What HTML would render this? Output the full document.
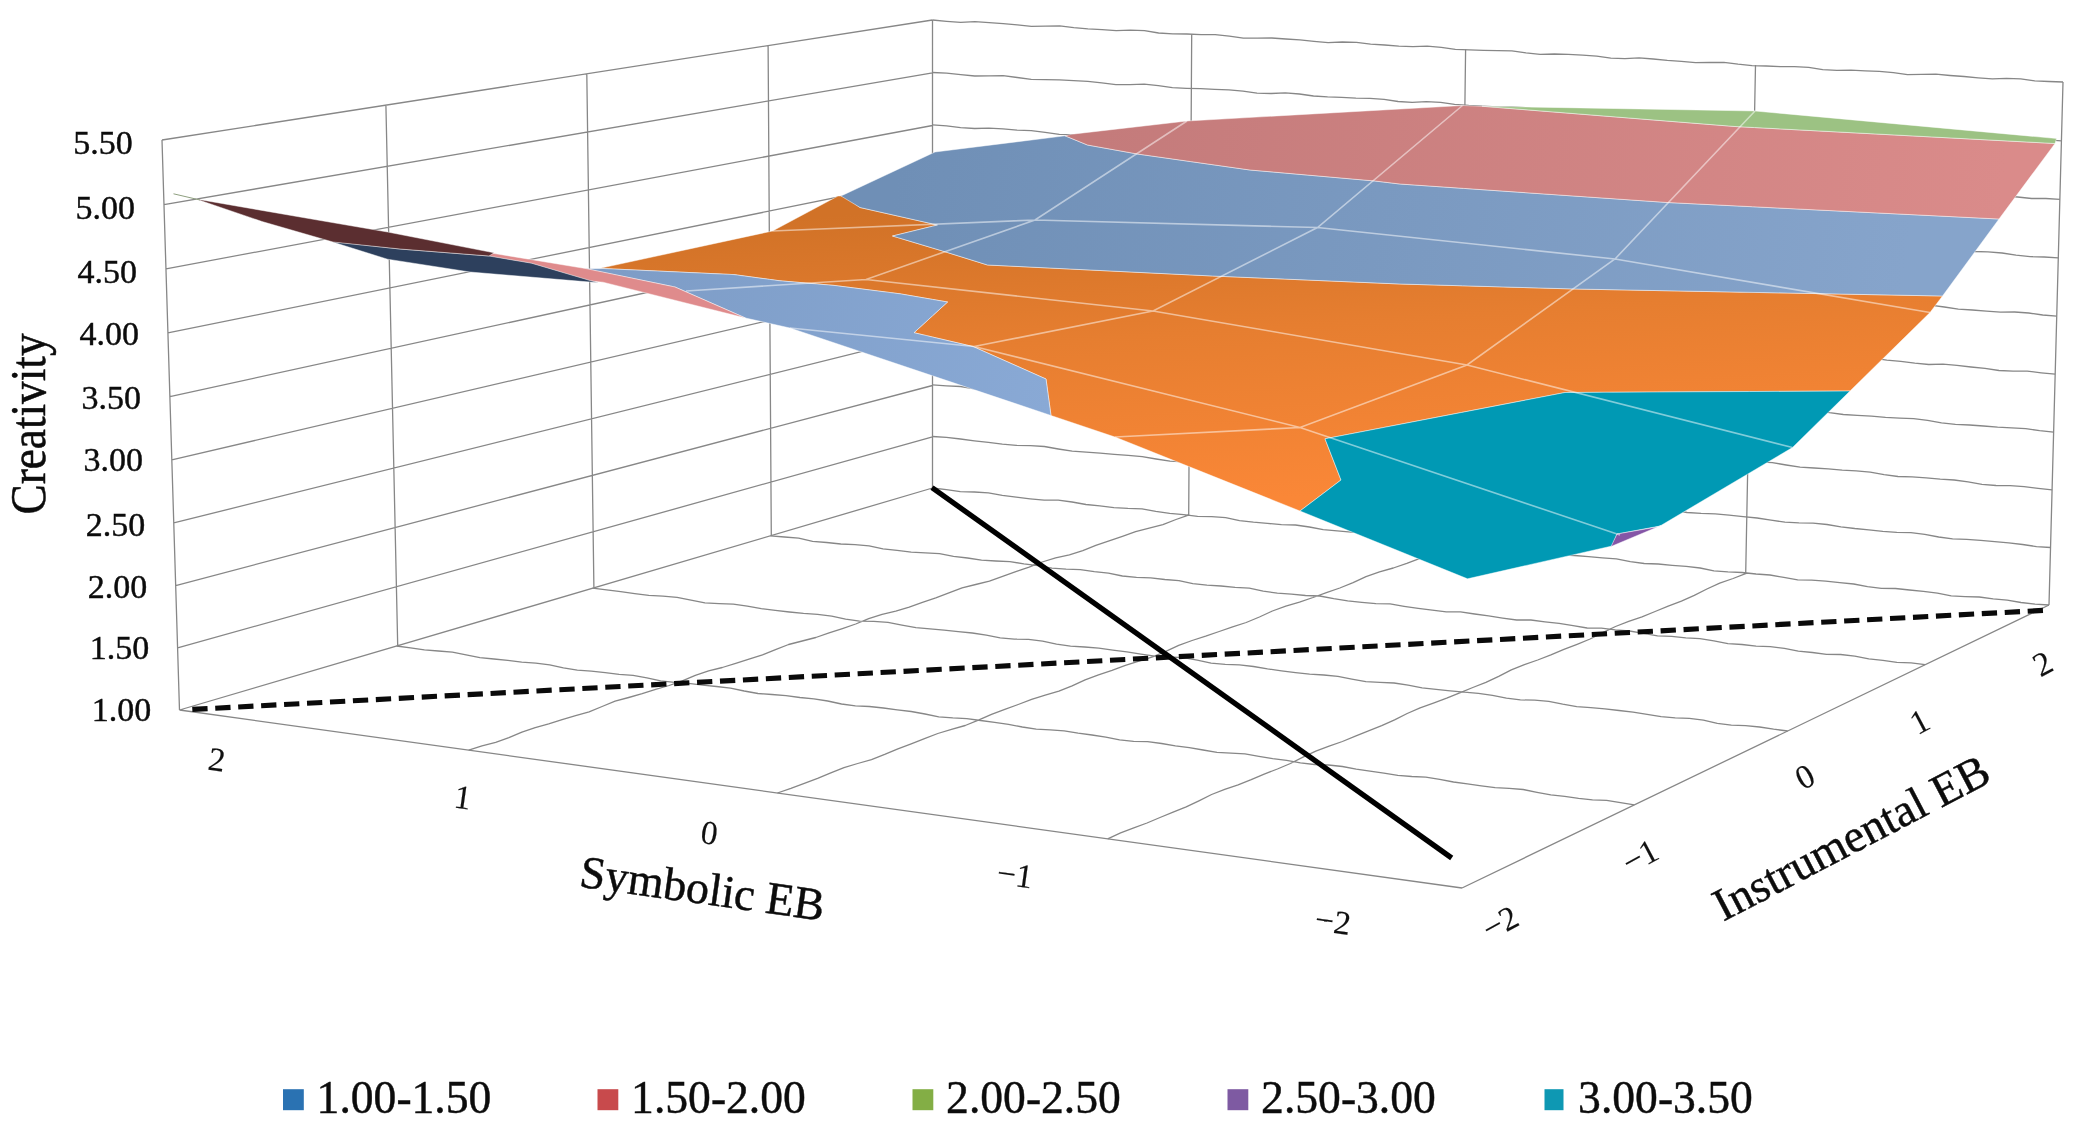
<!DOCTYPE html><html><head><meta charset="utf-8"><title>Surface chart</title><style>html,body{margin:0;padding:0;background:#fff;overflow:hidden}svg{display:block;filter:blur(0.55px)}</style></head><body><svg width="2081" height="1132" viewBox="0 0 2081 1132">
<defs>
<linearGradient id="gO" gradientUnits="userSpaceOnUse" x1="1000" y1="205" x2="1020" y2="515"><stop offset="0" stop-color="#d17227"/><stop offset="0.45" stop-color="#e67e30"/><stop offset="1" stop-color="#fa8737"/></linearGradient>
<linearGradient id="gB" gradientUnits="userSpaceOnUse" x1="900" y1="150" x2="1900" y2="300"><stop offset="0" stop-color="#6f8fb6"/><stop offset="1" stop-color="#86a4cb"/></linearGradient>
<linearGradient id="gR" gradientUnits="userSpaceOnUse" x1="1100" y1="120" x2="2000" y2="220"><stop offset="0" stop-color="#c47b7b"/><stop offset="1" stop-color="#da8b8a"/></linearGradient>
<linearGradient id="gL" gradientUnits="userSpaceOnUse" x1="600" y1="270" x2="1050" y2="410"><stop offset="0" stop-color="#7d9cc6"/><stop offset="1" stop-color="#89a9d5"/></linearGradient>
</defs>
<rect width="100%" height="100%" fill="#fff"/>
<path d="M179.5 710.0L932.5 488.0M179.5 710.0L1462.0 888.0M179.5 710.0L162.0 140.0M397.7 645.7L385.9 105.1M1188.7 514.9L1191.7 34.2M593.9 587.8L586.8 73.8M1459.4 543.2L1465.6 49.2M771.3 535.5L768.1 45.6M1745.7 573.2L1755.5 65.1M1462.0 888.0L2049.0 605.0M932.5 488.0L932.5 20.0M2049.0 605.0L2063.0 82.0M177.6 647.9L932.5 436.9M175.7 585.6L932.5 385.5M173.8 522.9L932.5 333.9M171.8 459.9L932.5 282.2M169.9 396.6L932.5 230.2M167.9 332.9L932.5 178.0M166.0 268.9L932.5 125.5M164.0 204.6L932.5 72.9M162.0 140.0L932.5 20.0" fill="none" stroke="#878787" stroke-width="1.3"/>
<path d="M468.7 750.1L482.0 745.8L495.7 742.3L508.9 737.7L521.9 732.1L535.2 727.6L548.7 723.9L562.1 719.6L575.6 715.7L589.1 711.8L602.1 706.5L615.1 701.2L628.7 697.5L642.2 693.7L655.6 689.4L669.1 685.5L682.3 680.9L695.3 675.3L708.6 670.9L722.3 667.5L735.7 663.4L749.0 659.1L762.5 654.9L775.5 649.7L788.6 644.5L802.2 641.0L815.8 637.5L829.1 632.9L842.4 628.6L855.7 624.0L868.7 618.6L882.1 614.3L895.8 611.2L909.2 607.1L922.4 602.3L935.8 597.9L948.9 592.9L962.1 587.9L975.7 584.5L989.4 581.1L1002.6 576.3L1015.8 571.6L1029.1 567.1L1042.2 562.0L1055.6 557.9L1069.4 554.8L1082.8 550.6L1095.8 545.4L1109.1 540.8L1122.4 536.3L1135.6 531.6L1149.2 528.1L1162.9 524.7L1176.0 519.5L1189.2 514.9M396.6 646.0L410.5 647.9L424.4 649.8L438.4 651.0L452.4 652.1L466.1 654.8L479.9 657.6L493.9 659.0L507.8 660.4L521.7 662.1L535.8 663.1L549.7 664.8L563.4 667.9L577.3 670.1L591.3 671.2L605.2 672.7L619.1 674.3L633.1 675.4L646.9 677.8L660.7 680.9L674.6 682.4L688.6 683.4L702.6 685.1L716.5 686.5L730.5 688.1L744.2 691.0L758.0 693.5L772.0 694.5L786.0 695.6L799.9 697.5L813.9 698.9L827.7 701.0L841.5 704.0L855.4 705.8L869.4 706.5L883.4 708.0L897.3 709.9L911.2 711.5L925.0 714.0L938.8 716.8L952.8 717.9L966.8 718.6L980.7 720.5L994.6 722.4L1008.5 724.3L1022.3 727.0L1036.2 729.2L1050.2 729.8L1064.2 730.9L1078.1 733.2L1092.0 735.0L1105.8 737.1L1119.6 739.9L1133.6 741.3L1147.6 741.7L1161.6 743.5L1175.4 745.9L1189.3 747.7L1203.1 750.0L1217.0 752.4L1231.0 753.1L1245.0 753.9L1258.9 756.3L1272.7 758.6L1286.6 760.4L1300.4 762.8L1314.4 764.5L1328.4 765.0L1342.4 766.5L1356.2 769.1L1370.0 771.2L1383.9 773.1L1397.8 775.4L1411.8 776.5L1425.8 777.1L1439.7 779.3L1453.5 782.0L1467.4 783.8L1481.3 785.8L1495.1 787.7L1509.2 788.4L1523.2 789.5L1537.0 792.3L1550.8 794.8L1564.7 796.4L1578.6 798.3L1592.5 799.8L1606.6 800.4L1620.5 802.7L1634.3 804.9M777.4 793.0L790.9 788.4L804.3 783.3L817.6 778.4L830.8 772.9L844.0 767.6L857.7 763.5L871.5 759.6L884.7 754.4L897.9 748.8L911.2 743.9L924.5 738.7L937.8 733.5L951.5 729.4L965.2 725.5L978.4 720.1L991.5 714.3L1004.8 709.4L1018.2 704.5L1031.6 699.4L1045.2 695.2L1058.9 691.2L1072.1 685.8L1085.1 679.8L1098.5 674.9L1112.0 670.3L1125.4 665.4L1138.9 661.1L1152.6 656.9L1165.8 651.4L1178.7 645.4L1192.1 640.5L1205.7 636.2L1219.2 631.5L1232.6 626.8L1246.2 622.5L1259.4 617.0L1272.4 611.0L1285.8 606.1L1299.5 602.1L1313.0 597.5L1326.4 592.6L1339.8 588.0L1353.1 582.6L1366.0 576.6L1379.5 571.9L1393.3 568.0L1406.8 563.4L1420.0 558.3L1433.4 553.5L1446.7 548.2L1460.1 543.3M592.6 588.2L606.6 589.8L620.7 591.7L634.7 593.7L648.8 595.4L662.9 596.2L677.1 597.3L691.0 600.1L704.9 602.8L719.1 603.6L733.3 604.1L747.3 606.2L761.3 608.7L775.3 610.4L789.4 612.0L803.5 613.4L817.6 614.4L831.7 616.2L845.6 619.1L859.6 621.1L873.8 621.4L888.0 622.4L901.9 625.1L915.9 627.6L930.0 628.9L944.1 630.1L958.2 631.6L972.3 633.0L986.3 635.2L1000.2 637.8L1014.3 639.1L1028.5 639.4L1042.6 641.1L1056.5 644.2L1070.5 646.2L1084.7 647.0L1098.8 648.2L1112.8 650.1L1126.9 651.9L1140.9 654.1L1154.9 656.1L1169.1 657.0L1183.2 657.7L1197.2 660.1L1211.1 663.1L1225.2 664.4L1239.4 664.9L1253.5 666.5L1267.5 668.9L1281.5 670.8L1295.5 672.6L1309.6 674.2L1323.8 675.0L1337.9 676.4L1351.8 679.2L1365.8 681.7L1379.9 682.4L1394.1 683.0L1408.1 685.2L1422.1 687.8L1436.1 689.4L1450.2 690.8L1464.3 692.2L1478.4 693.4L1492.5 695.3L1506.4 698.1L1520.4 699.9L1534.7 700.2L1548.8 701.4L1562.7 704.2L1576.7 706.6L1590.8 707.7L1604.9 708.9L1619.0 710.5L1633.1 712.1L1647.1 714.3L1661.1 716.7L1675.2 717.9L1689.4 718.3L1703.4 720.2L1717.3 723.3L1731.3 725.1L1745.5 725.7L1759.6 727.0L1773.6 729.2L1787.7 731.0M1107.7 838.8L1120.6 832.9L1133.8 827.9L1147.0 823.0L1160.0 817.5L1173.1 812.2L1186.2 806.9L1198.9 800.8L1211.6 794.5L1224.7 789.3L1238.1 784.8L1251.2 779.6L1264.2 774.1L1277.4 769.0L1290.4 763.5L1303.0 757.1L1315.8 751.1L1329.1 746.2L1342.4 741.5L1355.4 736.2L1368.5 730.8L1381.7 725.7L1394.6 719.9L1407.2 713.5L1420.1 707.8L1433.4 703.1L1446.7 698.2L1459.7 692.8L1472.8 687.5L1485.9 682.4L1498.7 676.3L1511.3 669.9L1524.4 664.6L1537.7 660.0L1550.9 654.9L1563.9 649.4L1577.1 644.3L1590.1 639.0L1602.8 632.6L1615.5 626.5L1628.7 621.4L1642.0 616.8L1655.1 611.5L1668.2 606.1L1681.4 601.1L1694.3 595.4L1706.9 589.0L1719.7 583.1L1733.1 578.5L1746.2 573.3M770.4 535.8L784.5 537.0L798.7 538.2L812.6 541.3L826.7 542.5L840.8 544.0L855.0 544.7L869.1 545.8L883.0 548.8L897.1 550.3L911.2 552.2L925.3 552.8L939.5 553.6L953.5 556.4L967.5 558.0L981.5 560.2L995.7 561.0L1009.9 561.6L1023.9 563.9L1038.0 565.6L1051.9 568.2L1066.1 569.2L1080.3 569.6L1094.3 571.6L1108.4 573.1L1122.4 576.0L1136.5 577.3L1150.7 577.8L1164.8 579.5L1178.9 580.6L1192.8 583.6L1206.9 585.2L1221.0 586.0L1235.1 587.4L1249.3 588.2L1263.2 591.2L1277.3 593.1L1291.4 594.2L1305.5 595.5L1319.7 596.0L1333.7 598.7L1347.7 600.8L1361.8 602.3L1375.9 603.7L1390.1 603.9L1404.1 606.3L1418.2 608.4L1432.2 610.2L1446.3 611.9L1460.5 611.9L1474.6 614.0L1488.6 615.9L1502.6 618.1L1516.7 620.0L1530.9 620.0L1545.0 621.8L1559.1 623.4L1573.1 625.7L1587.1 628.0L1601.3 628.2L1615.4 629.8L1629.5 631.0L1643.5 633.3L1657.5 635.9L1671.7 636.4L1685.8 637.9L1699.9 638.7L1713.9 640.9L1727.9 643.6L1742.0 644.5L1756.1 646.1L1770.3 646.6L1784.4 648.4L1798.3 651.2L1812.4 652.5L1826.5 654.3L1840.7 654.5L1854.8 656.1L1868.8 658.8L1882.9 660.3L1896.9 662.4L1911.1 662.9L1925.1 664.7M932.5 488.0L946.4 489.7L960.3 491.7L974.4 492.0L988.4 492.8L1002.3 495.4L1016.2 497.1L1030.1 498.8L1044.1 500.2L1058.2 500.2L1072.1 502.0L1086.0 504.5L1099.9 505.9L1113.9 507.6L1127.9 508.4L1142.0 508.8L1155.8 511.3L1169.7 513.4L1183.7 514.7L1197.6 516.3L1211.7 516.6L1225.7 517.7L1239.5 520.6L1253.4 522.2L1267.4 523.4L1281.4 524.7L1295.5 525.0L1309.4 527.0L1323.2 529.7L1337.2 530.8L1351.2 532.2L1365.2 533.0L1379.2 533.7L1393.0 536.5L1406.9 538.5L1420.9 539.4L1434.9 540.8L1449.0 541.4L1462.9 542.8L1476.7 545.8L1490.7 547.1L1504.7 548.0L1518.7 549.3L1532.7 549.9L1546.6 552.2L1560.4 554.8L1574.5 555.5L1588.5 556.7L1602.4 557.8L1616.4 558.8L1630.3 561.6L1644.2 563.5L1658.2 564.0L1672.2 565.3L1686.2 566.3L1700.1 568.0L1713.9 570.9L1727.9 571.9L1742.0 572.5L1756.0 574.0L1770.0 575.0L1783.8 577.4L1797.7 579.8L1811.7 580.2L1825.7 581.2L1839.7 582.6L1853.7 584.0L1867.5 586.7L1881.4 588.3L1895.5 588.5L1909.5 590.0L1923.4 591.4L1937.4 593.2L1951.2 595.9L1965.2 596.6L1979.3 597.0L1993.2 598.8L2007.2 600.2L2021.0 602.5L2035.0 604.1L2049.0 605.0M932.5 436.5L946.5 437.4L960.5 439.0L974.4 440.8L988.4 442.3L1002.3 444.1L1016.3 445.3L1030.4 445.6L1044.4 446.5L1058.3 449.0L1072.2 451.2L1086.2 452.2L1100.2 453.2L1114.2 454.4L1128.2 455.4L1142.2 456.6L1156.1 459.0L1170.0 461.2L1184.0 461.9L1198.1 462.2L1212.1 463.7L1226.0 465.5L1240.0 467.0L1253.9 468.9L1267.8 470.7L1281.9 471.3L1296.0 471.5L1309.9 473.3L1323.8 475.8L1337.7 477.4L1351.7 478.4L1365.7 479.7L1379.7 480.7L1393.8 481.4L1407.7 483.2L1421.6 485.9L1435.5 487.4L1449.6 487.8L1463.6 488.6L1477.6 490.3L1491.5 491.8L1505.5 493.4L1519.4 495.6L1533.4 497.0L1547.5 497.1L1561.5 497.9L1575.4 500.1L1589.3 502.3L1603.3 503.5L1617.3 504.8L1631.3 506.1L1645.3 506.7L1659.3 507.7L1673.2 510.1L1687.1 512.5L1701.1 513.4L1715.2 513.9L1729.1 515.2L1743.1 516.6L1757.1 518.0L1771.0 520.1L1784.9 522.2L1798.9 522.9L1813.0 523.1L1827.0 524.5L1840.9 526.8L1854.8 528.5L1868.8 529.8L1882.8 531.4L1896.8 532.3L1910.9 532.7L1924.8 534.3L1938.7 537.0L1952.6 538.8L1966.7 539.4L1980.7 540.3L1994.7 541.7L2008.7 542.8L2022.6 544.5L2036.5 546.6L2050.5 547.5M932.5 384.9L946.5 385.8L960.6 386.5L974.5 388.8L988.4 390.7L1002.4 391.8L1016.4 393.3L1030.5 394.2L1044.5 394.4L1058.5 395.9L1072.4 398.5L1086.4 400.0L1100.4 400.9L1114.4 402.2L1128.5 403.0L1142.5 403.6L1156.4 405.5L1170.3 408.1L1184.3 409.2L1198.4 409.8L1212.4 411.0L1226.4 412.0L1240.5 412.9L1254.4 415.3L1268.3 417.5L1282.3 418.1L1296.4 418.6L1310.4 420.0L1324.4 421.2L1338.4 422.5L1352.3 424.9L1366.2 426.7L1380.3 426.9L1394.4 427.5L1408.4 429.1L1422.3 430.6L1436.3 432.1L1450.2 434.3L1464.2 435.6L1478.3 435.6L1492.4 436.5L1506.3 438.5L1520.3 440.1L1534.2 441.6L1548.2 443.5L1562.2 444.3L1576.3 444.3L1590.3 445.8L1604.2 448.1L1618.2 449.6L1632.2 450.9L1646.2 452.5L1660.2 453.0L1674.3 453.3L1688.3 455.3L1702.2 457.7L1716.2 458.9L1730.2 460.0L1744.2 461.3L1758.2 461.8L1772.3 462.6L1786.2 465.0L1800.1 467.2L1814.1 468.0L1828.2 468.9L1842.2 470.1L1856.2 470.8L1870.2 472.1L1884.1 474.7L1898.0 476.5L1912.1 476.9L1926.2 477.8L1940.2 479.1L1954.2 480.0L1968.1 481.8L1982.0 484.3L1996.0 485.5L2010.1 485.7L2024.1 486.7L2038.1 488.4L2052.1 489.9M932.5 333.2L946.5 334.3L960.5 336.4L974.5 337.7L988.5 338.3L1002.6 339.4L1016.6 340.5L1030.7 341.1L1044.7 342.1L1058.6 344.3L1072.6 346.4L1086.6 347.4L1100.7 348.1L1114.7 349.3L1128.7 350.3L1142.8 350.8L1156.8 352.1L1170.7 354.4L1184.7 356.4L1198.7 357.2L1212.8 358.0L1226.8 359.2L1240.8 360.1L1254.9 360.6L1268.9 362.1L1282.8 364.5L1296.8 366.3L1310.8 367.0L1324.9 367.9L1338.9 369.1L1353.0 369.8L1367.0 370.5L1381.0 372.2L1394.9 374.6L1408.9 376.1L1423.0 376.8L1437.0 377.8L1451.0 378.9L1465.1 379.6L1479.1 380.4L1493.1 382.3L1507.0 384.6L1521.0 385.9L1535.1 386.6L1549.1 387.7L1563.1 388.8L1577.2 389.3L1591.2 390.3L1605.2 392.5L1619.1 394.6L1633.1 395.7L1647.2 396.4L1661.2 397.6L1675.3 398.6L1689.3 399.1L1703.4 400.3L1717.3 402.6L1731.2 404.6L1745.3 405.5L1759.3 406.2L1773.3 407.5L1787.4 408.4L1801.5 408.9L1815.5 410.3L1829.4 412.7L1843.3 414.5L1857.4 415.3L1871.4 416.1L1885.5 417.4L1899.5 418.1L1913.6 418.7L1927.6 420.4L1941.5 422.8L1955.4 424.4L1969.5 425.0L1983.5 426.0L1997.6 427.2L2011.6 427.9L2025.7 428.6L2039.6 430.7L2053.6 432.1M932.5 281.3L946.5 282.7L960.6 282.7L974.6 284.4L988.6 285.8L1002.6 287.3L1016.6 289.3L1030.7 289.4L1044.8 289.8L1058.8 291.5L1072.9 292.6L1086.8 294.7L1100.8 296.2L1115.0 296.0L1129.0 297.0L1143.0 298.3L1157.1 299.5L1171.0 302.0L1185.0 302.8L1199.2 302.9L1213.2 304.2L1227.3 305.0L1241.2 306.8L1255.2 309.1L1269.3 309.4L1283.4 310.0L1297.4 311.1L1311.5 311.8L1325.4 314.1L1339.4 316.0L1353.5 316.1L1367.5 317.2L1381.6 317.8L1395.7 318.8L1409.6 321.5L1423.6 322.6L1437.7 323.1L1451.7 324.2L1465.9 324.5L1479.8 326.1L1493.8 328.6L1507.8 329.3L1521.9 330.3L1536.0 331.0L1550.1 331.3L1564.0 333.5L1578.0 335.4L1592.0 336.2L1606.1 337.5L1620.2 337.6L1634.3 338.3L1648.2 340.8L1662.2 342.1L1676.2 343.3L1690.3 344.4L1704.4 344.2L1718.4 345.6L1732.4 347.8L1746.4 348.9L1760.4 350.5L1774.5 351.1L1788.6 351.0L1802.6 353.0L1816.6 354.6L1830.6 355.9L1844.6 357.7L1858.7 357.6L1872.8 358.1L1886.8 360.1L1900.8 361.4L1914.8 363.2L1928.8 364.5L1943.0 364.2L1957.0 365.4L1971.0 367.0L1985.0 368.3L1999.0 370.5L2013.0 371.2L2027.2 371.1L2041.2 372.8L2055.2 374.2M932.5 229.3L946.6 230.1L960.6 232.1L974.6 233.6L988.7 233.7L1002.8 234.6L1016.8 235.4L1030.9 235.9L1044.9 237.8L1058.9 239.9L1073.0 240.5L1087.0 241.7L1101.1 242.5L1115.3 242.4L1129.3 243.7L1143.3 245.7L1157.3 246.7L1171.4 248.4L1185.4 249.8L1199.5 249.6L1213.6 250.2L1227.6 251.7L1241.7 252.6L1255.7 254.4L1269.7 256.4L1283.8 256.8L1297.9 257.3L1311.9 258.4L1326.1 258.8L1340.1 260.1L1354.0 262.4L1368.1 263.5L1382.2 264.4L1396.2 265.6L1410.3 265.6L1424.4 266.2L1438.4 268.2L1452.5 269.5L1466.5 270.8L1480.5 272.6L1494.6 272.9L1508.7 273.0L1522.8 274.4L1536.8 275.4L1550.9 276.7L1564.8 279.0L1578.9 280.0L1593.0 280.2L1607.0 281.3L1621.1 281.8L1635.2 282.5L1649.2 284.8L1663.2 286.4L1677.3 287.1L1691.3 288.5L1705.4 288.9L1719.5 288.9L1733.6 290.6L1747.6 292.3L1761.6 293.4L1775.6 295.2L1789.7 296.2L1803.8 296.0L1817.9 297.0L1831.9 298.3L1846.0 299.2L1860.0 301.3L1874.0 303.0L1888.1 303.2L1902.2 304.1L1916.2 305.0L1930.3 305.2L1944.3 307.0L1958.3 309.1L1972.4 310.0L1986.4 311.2L2000.5 312.2L2014.6 312.0L2028.7 313.0L2042.7 315.0L2056.7 316.1M932.5 177.2L946.5 178.5L960.6 179.5L974.7 180.7L988.8 181.5L1002.9 181.4L1017.0 182.1L1031.0 184.1L1045.0 185.7L1059.1 186.6L1073.2 187.8L1087.2 188.9L1101.4 189.0L1115.5 189.2L1129.6 190.6L1143.6 192.5L1157.6 193.5L1171.7 194.7L1185.7 196.1L1199.8 196.7L1214.0 196.5L1228.1 197.4L1242.1 199.1L1256.2 200.4L1270.2 201.5L1284.3 203.1L1298.3 204.2L1312.5 204.2L1326.6 204.4L1340.6 205.9L1354.7 207.3L1368.8 208.3L1382.8 209.8L1396.8 211.5L1410.9 211.9L1425.1 211.8L1439.2 212.7L1453.2 214.2L1467.3 215.1L1481.3 216.4L1495.3 218.4L1509.4 219.4L1523.6 219.4L1537.7 219.8L1551.7 221.1L1565.8 222.1L1579.9 223.1L1593.9 225.0L1607.9 226.7L1622.0 227.0L1636.2 227.1L1650.2 228.1L1664.3 229.2L1678.4 229.9L1692.4 231.5L1706.4 233.5L1720.5 234.5L1734.6 234.6L1748.7 235.3L1762.8 236.3L1776.9 236.9L1791.0 238.0L1805.0 240.1L1819.0 241.7L1833.1 242.1L1847.2 242.5L1861.3 243.5L1875.4 244.2L1889.5 244.7L1903.5 246.5L1917.5 248.6L1931.6 249.5L1945.7 249.8L1959.8 250.8L1973.9 251.5L1988.0 251.8L2002.1 253.0L2016.0 255.2L2030.1 256.6L2044.2 257.0L2058.3 257.8M932.5 124.9L946.6 125.9L960.6 127.6L974.7 128.5L988.9 128.2L1003.0 128.9L1017.1 130.1L1031.2 130.7L1045.2 132.4L1059.3 134.3L1073.4 134.7L1087.5 135.2L1101.6 136.1L1115.7 136.2L1129.9 137.0L1143.9 139.1L1157.9 140.3L1172.0 141.1L1186.1 142.5L1200.2 142.7L1214.4 142.6L1228.5 143.9L1242.5 145.2L1256.6 146.1L1270.7 148.0L1284.7 149.2L1298.9 149.1L1313.0 149.7L1327.1 150.6L1341.2 151.0L1355.3 152.5L1369.3 154.6L1383.4 155.2L1397.5 155.9L1411.6 157.0L1425.8 156.9L1439.9 157.3L1453.9 159.2L1468.0 160.4L1482.1 161.4L1496.1 163.1L1510.2 163.6L1524.4 163.3L1538.5 164.4L1552.6 165.4L1566.7 166.2L1580.7 168.2L1594.8 169.7L1608.9 169.8L1623.0 170.5L1637.1 171.3L1651.3 171.3L1665.3 172.6L1679.3 174.7L1693.4 175.6L1707.5 176.6L1721.6 177.8L1735.8 177.7L1749.9 177.9L1764.0 179.5L1778.0 180.5L1792.1 181.6L1806.1 183.6L1820.2 184.3L1834.4 184.2L1848.5 185.1L1862.6 185.8L1876.7 186.3L1890.7 188.3L1904.8 190.0L1918.9 190.4L1933.0 191.4L1947.1 192.1L1961.3 191.9L1975.4 192.9L1989.4 194.8L2003.5 195.8L2017.6 197.0L2031.6 198.5L2045.8 198.5L2059.9 199.4M932.5 72.5L946.6 73.2L960.7 74.6L974.8 76.0L989.0 75.8L1003.1 75.6L1017.2 77.5L1031.2 79.4L1045.4 79.7L1059.5 79.9L1073.6 80.7L1087.8 81.4L1101.8 82.9L1115.9 84.6L1130.0 84.7L1144.2 84.2L1158.3 85.7L1172.4 87.7L1186.5 88.3L1200.6 88.7L1214.7 89.3L1228.9 89.8L1243.0 91.1L1257.0 93.1L1271.1 93.5L1285.3 92.9L1299.4 94.0L1313.5 96.0L1327.6 96.9L1341.7 97.4L1355.9 98.1L1370.0 98.3L1384.1 99.3L1398.1 101.5L1412.2 102.4L1426.4 101.7L1440.6 102.4L1454.6 104.3L1468.7 105.4L1482.8 106.1L1497.0 106.8L1511.1 106.9L1525.2 107.6L1539.3 109.8L1553.3 111.1L1567.5 110.6L1581.7 110.9L1595.7 112.5L1609.8 113.8L1623.9 114.7L1638.1 115.6L1652.2 115.6L1666.4 115.9L1680.4 118.0L1694.5 119.7L1708.6 119.5L1722.8 119.5L1736.9 120.9L1751.0 122.1L1765.1 123.2L1779.2 124.3L1793.3 124.3L1807.5 124.3L1821.5 126.2L1835.6 128.2L1849.7 128.3L1863.9 128.2L1878.0 129.3L1892.1 130.4L1906.2 131.6L1920.3 133.0L1934.4 133.2L1948.6 132.9L1962.7 134.4L1976.7 136.6L1990.8 137.1L2005.0 137.0L2019.1 137.8L2033.2 138.8L2047.3 139.9L2061.4 140.8M932.5 20.0L946.6 21.3L960.7 22.3L974.9 21.7L989.1 22.6L1003.2 23.6L1017.3 24.8L1031.4 26.4L1045.5 26.2L1059.7 25.9L1073.8 27.6L1087.9 28.9L1102.1 29.7L1116.2 30.6L1130.4 30.2L1144.5 30.7L1158.6 33.0L1172.7 33.8L1186.9 34.0L1201.0 34.6L1215.2 34.7L1229.3 36.1L1243.3 38.2L1257.5 38.1L1271.7 38.0L1285.8 39.0L1299.9 39.8L1314.0 41.4L1328.1 42.7L1342.3 42.0L1356.5 42.4L1370.6 44.1L1384.7 45.0L1398.8 46.2L1412.9 46.7L1427.2 46.1L1441.3 47.4L1455.3 49.4L1469.5 49.8L1483.6 50.4L1497.8 50.7L1511.9 50.8L1526.0 52.9L1540.1 54.4L1554.3 54.0L1568.4 54.4L1582.6 55.2L1596.7 56.1L1610.8 58.1L1624.9 58.6L1639.1 57.9L1653.2 59.0L1667.3 60.4L1681.4 61.3L1695.5 62.7L1709.7 62.5L1723.9 62.3L1738.0 64.2L1752.1 65.6L1766.2 66.0L1780.4 66.7L1794.5 66.6L1808.7 67.3L1822.7 69.6L1836.9 70.3L1851.0 70.1L1865.2 70.8L1879.3 71.3L1893.4 72.7L1907.5 74.6L1921.7 74.4L1935.9 74.2L1950.0 75.5L1964.1 76.5L1978.2 77.8L1992.3 78.9L2006.5 78.3L2020.7 78.8L2034.7 80.8L2048.9 81.5L2063.0 82.0" fill="none" stroke="#878787" stroke-width="1.3" stroke-linejoin="round"/>
<polygon points="600.0,268.3 772.5,231.0 838.0,196.0 844.0,196.0 860.0,207.5 937.5,225.0 892.5,236.0 942.5,251.0 987.5,265.0 1212.5,276.0 1400.0,284.0 1575.0,289.0 1942.5,296.0 1930.0,312.5 1850.0,391.0 1565.0,392.5 1325.0,438.8 1341.0,480.0 1300.0,511.0 1115.0,437.0 1051.0,415.5 1046.0,379.0 973.0,346.5 914.0,332.7 947.6,302.0 900.0,293.8 834.0,285.4 780.0,280.8 734.0,274.6 603.0,268.5" fill="url(#gO)" stroke="#fff" stroke-opacity="0.45" stroke-width="1" stroke-linejoin="round"/>
<polygon points="841.0,196.0 935.0,152.0 1065.0,135.8 1087.5,145.0 1137.5,154.0 1250.0,170.0 1375.0,181.0 1400.0,184.0 1667.5,202.5 1999.0,219.0 1942.5,296.0 1575.0,289.0 1400.0,284.0 1212.5,276.0 987.5,265.0 942.5,251.0 892.5,236.0 937.5,225.0 860.0,207.5" fill="url(#gB)" stroke="#fff" stroke-opacity="0.45" stroke-width="1" stroke-linejoin="round"/>
<polygon points="1065.0,135.8 1072.0,134.2 1187.0,121.0 1462.5,105.5 1482.0,106.3 1735.0,126.5 2055.0,143.5 1999.0,219.0 1667.5,202.5 1400.0,184.0 1375.0,181.0 1250.0,170.0 1137.5,154.0 1087.5,145.0" fill="url(#gR)" stroke="#fff" stroke-opacity="0.45" stroke-width="1" stroke-linejoin="round"/>
<polygon points="1482.0,106.2 1755.0,111.0 2056.5,138.5 2055.0,143.5 1735.0,126.5" fill="#9cc283" stroke="#fff" stroke-opacity="0.45" stroke-width="1" stroke-linejoin="round"/>
<polygon points="1850.0,391.0 1792.5,447.5 1660.0,526.0 1617.0,534.0 1612.0,546.0 1467.5,578.8 1300.0,511.0 1341.0,480.0 1325.0,438.8 1565.0,392.5" fill="#0099b4" stroke="#fff" stroke-opacity="0.45" stroke-width="1" stroke-linejoin="round"/>
<polygon points="1617.0,534.0 1657.0,527.0 1661.0,525.5 1611.0,546.5" fill="#8455a6" stroke="#fff" stroke-opacity="0.45" stroke-width="1" stroke-linejoin="round"/>
<polygon points="585.0,268.8 603.0,268.5 734.0,274.6 780.0,280.8 834.0,285.4 900.0,293.8 947.6,302.0 914.0,332.7 973.0,346.5 1046.0,379.0 1051.0,415.5 790.0,328.0 745.5,318.0 675.0,287.0 587.0,269.0" fill="url(#gL)" stroke="#fff" stroke-opacity="0.45" stroke-width="1" stroke-linejoin="round"/>
<polygon points="490.0,252.8 587.0,268.8 675.0,287.0 745.5,318.0 603.0,282.2 590.0,281.0 531.5,263.6 489.0,256.4" fill="#df8b8c" stroke="#fff" stroke-opacity="0.45" stroke-width="1" stroke-linejoin="round"/>
<polygon points="331.0,241.5 400.0,249.0 489.0,256.0 531.5,263.2 590.0,280.5 599.0,282.8 470.0,272.0 387.5,259.2" fill="#2d405d" stroke="#fff" stroke-opacity="0.45" stroke-width="1" stroke-linejoin="round"/>
<polygon points="196.0,199.0 300.0,217.0 387.5,232.0 494.0,252.8 489.0,256.0 400.0,249.0 333.0,242.0 262.0,221.5" fill="#5b2e30" stroke="#fff" stroke-opacity="0.45" stroke-width="1" stroke-linejoin="round"/>
<path d="M1187.0 121.0L1035.0 220.0L866.0 279.5L686.0 291.0M1462.5 105.5L1317.5 227.5L1153.0 311.0L974.0 346.5L790.0 328.0M1755.0 111.0L1615.0 259.0L1467.0 365.0L1300.0 427.5L1115.0 437.0M772.5 231.0L1035.0 220.0L1317.5 227.5L1615.0 259.0L1930.0 312.5M866.0 279.5L1153.0 311.0L1467.0 365.0L1792.5 447.5M974.0 346.5L1300.0 427.5L1620.0 535.0" fill="none" stroke="#fff" stroke-opacity="0.5" stroke-width="1.6"/>
<line x1="173.5" y1="193.8" x2="200" y2="200" stroke="#8fa080" stroke-width="1"/>
<line x1="192.3" y1="709.4" x2="2044.5" y2="610.3" stroke="#0a0a0a" stroke-width="5.1" stroke-dasharray="15.3 7.675"/>
<line x1="932" y1="487.6" x2="1451.7" y2="858" stroke="#000" stroke-width="5.3"/>
<text x="132.8" y="153.5" text-anchor="end" font-size="34" font-family="Liberation Serif, Times New Roman, serif" fill="#0c0c0c" stroke="#0c0c0c" stroke-width="0.45">5.50</text>
<text x="134.9" y="218.5" text-anchor="end" font-size="34" font-family="Liberation Serif, Times New Roman, serif" fill="#0c0c0c" stroke="#0c0c0c" stroke-width="0.45">5.00</text>
<text x="137.0" y="282.5" text-anchor="end" font-size="34" font-family="Liberation Serif, Times New Roman, serif" fill="#0c0c0c" stroke="#0c0c0c" stroke-width="0.45">4.50</text>
<text x="139.0" y="344.7" text-anchor="end" font-size="34" font-family="Liberation Serif, Times New Roman, serif" fill="#0c0c0c" stroke="#0c0c0c" stroke-width="0.45">4.00</text>
<text x="141.1" y="408.5" text-anchor="end" font-size="34" font-family="Liberation Serif, Times New Roman, serif" fill="#0c0c0c" stroke="#0c0c0c" stroke-width="0.45">3.50</text>
<text x="143.1" y="471.3" text-anchor="end" font-size="34" font-family="Liberation Serif, Times New Roman, serif" fill="#0c0c0c" stroke="#0c0c0c" stroke-width="0.45">3.00</text>
<text x="145.2" y="536.1" text-anchor="end" font-size="34" font-family="Liberation Serif, Times New Roman, serif" fill="#0c0c0c" stroke="#0c0c0c" stroke-width="0.45">2.50</text>
<text x="147.2" y="597.8" text-anchor="end" font-size="34" font-family="Liberation Serif, Times New Roman, serif" fill="#0c0c0c" stroke="#0c0c0c" stroke-width="0.45">2.00</text>
<text x="149.2" y="658.7" text-anchor="end" font-size="34" font-family="Liberation Serif, Times New Roman, serif" fill="#0c0c0c" stroke="#0c0c0c" stroke-width="0.45">1.50</text>
<text x="151.2" y="720.8" text-anchor="end" font-size="34" font-family="Liberation Serif, Times New Roman, serif" fill="#0c0c0c" stroke="#0c0c0c" stroke-width="0.45">1.00</text>
<text transform="translate(45.4,424) rotate(-90) scale(1,1.1)" text-anchor="middle" font-size="45.3" font-family="Liberation Serif, Times New Roman, serif" fill="#0c0c0c" stroke="#0c0c0c" stroke-width="0.45">Creativity</text>
<text transform="translate(578.2,886.4) rotate(8)" font-size="46" font-family="Liberation Serif, Times New Roman, serif" fill="#0c0c0c" stroke="#0c0c0c" stroke-width="0.45">Symbolic EB</text>
<text transform="translate(1723.3,921.8) rotate(-27.6)" font-size="46.3" font-family="Liberation Serif, Times New Roman, serif" fill="#0c0c0c" stroke="#0c0c0c" stroke-width="0.45">Instrumental EB</text>
<text transform="translate(217,759.2) rotate(8)" text-anchor="middle" dominant-baseline="central" font-size="33.5" font-family="Liberation Serif, Times New Roman, serif" fill="#111" stroke="#111" stroke-width="0.15">2</text>
<text transform="translate(463,797) rotate(8)" text-anchor="middle" dominant-baseline="central" font-size="33.5" font-family="Liberation Serif, Times New Roman, serif" fill="#111" stroke="#111" stroke-width="0.15">1</text>
<text transform="translate(709.5,832.5) rotate(8)" text-anchor="middle" dominant-baseline="central" font-size="33.5" font-family="Liberation Serif, Times New Roman, serif" fill="#111" stroke="#111" stroke-width="0.15">0</text>
<text transform="translate(1015,874.5) rotate(8)" text-anchor="middle" dominant-baseline="central" font-size="33.5" font-family="Liberation Serif, Times New Roman, serif" fill="#111" stroke="#111" stroke-width="0.15">−1</text>
<text transform="translate(1333,921.2) rotate(8)" text-anchor="middle" dominant-baseline="central" font-size="33.5" font-family="Liberation Serif, Times New Roman, serif" fill="#111" stroke="#111" stroke-width="0.15">−2</text>
<text transform="translate(1500,922.5) rotate(-28)" text-anchor="middle" dominant-baseline="central" font-size="33.5" font-family="Liberation Serif, Times New Roman, serif" fill="#111" stroke="#111" stroke-width="0.15">−2</text>
<text transform="translate(1640,856) rotate(-28)" text-anchor="middle" dominant-baseline="central" font-size="33.5" font-family="Liberation Serif, Times New Roman, serif" fill="#111" stroke="#111" stroke-width="0.15">−1</text>
<text transform="translate(1804.7,776.4) rotate(-28)" text-anchor="middle" dominant-baseline="central" font-size="33.5" font-family="Liberation Serif, Times New Roman, serif" fill="#111" stroke="#111" stroke-width="0.15">0</text>
<text transform="translate(1919.5,721.3) rotate(-28)" text-anchor="middle" dominant-baseline="central" font-size="33.5" font-family="Liberation Serif, Times New Roman, serif" fill="#111" stroke="#111" stroke-width="0.15">1</text>
<text transform="translate(2042.5,663.5) rotate(-28)" text-anchor="middle" dominant-baseline="central" font-size="33.5" font-family="Liberation Serif, Times New Roman, serif" fill="#111" stroke="#111" stroke-width="0.15">2</text>
<rect x="283" y="1089.2" width="20.8" height="21" fill="#2a72b2"/>
<text x="316.6" y="1113.3" font-size="45.6" font-family="Liberation Serif, Times New Roman, serif" fill="#0c0c0c" stroke="#0c0c0c" stroke-width="0.45">1.00-1.50</text>
<rect x="597.5" y="1089.2" width="20.8" height="21" fill="#c84a4c"/>
<text x="631.1" y="1113.3" font-size="45.6" font-family="Liberation Serif, Times New Roman, serif" fill="#0c0c0c" stroke="#0c0c0c" stroke-width="0.45">1.50-2.00</text>
<rect x="912.5" y="1089.2" width="20.8" height="21" fill="#83ae45"/>
<text x="946.1" y="1113.3" font-size="45.6" font-family="Liberation Serif, Times New Roman, serif" fill="#0c0c0c" stroke="#0c0c0c" stroke-width="0.45">2.00-2.50</text>
<rect x="1227.5" y="1089.2" width="20.8" height="21" fill="#7e5aa2"/>
<text x="1261.1" y="1113.3" font-size="45.6" font-family="Liberation Serif, Times New Roman, serif" fill="#0c0c0c" stroke="#0c0c0c" stroke-width="0.45">2.50-3.00</text>
<rect x="1544.5" y="1089.2" width="19" height="21" fill="#0e98b3"/>
<text x="1578.1" y="1113.3" font-size="45.6" font-family="Liberation Serif, Times New Roman, serif" fill="#0c0c0c" stroke="#0c0c0c" stroke-width="0.45">3.00-3.50</text>
</svg></body></html>
